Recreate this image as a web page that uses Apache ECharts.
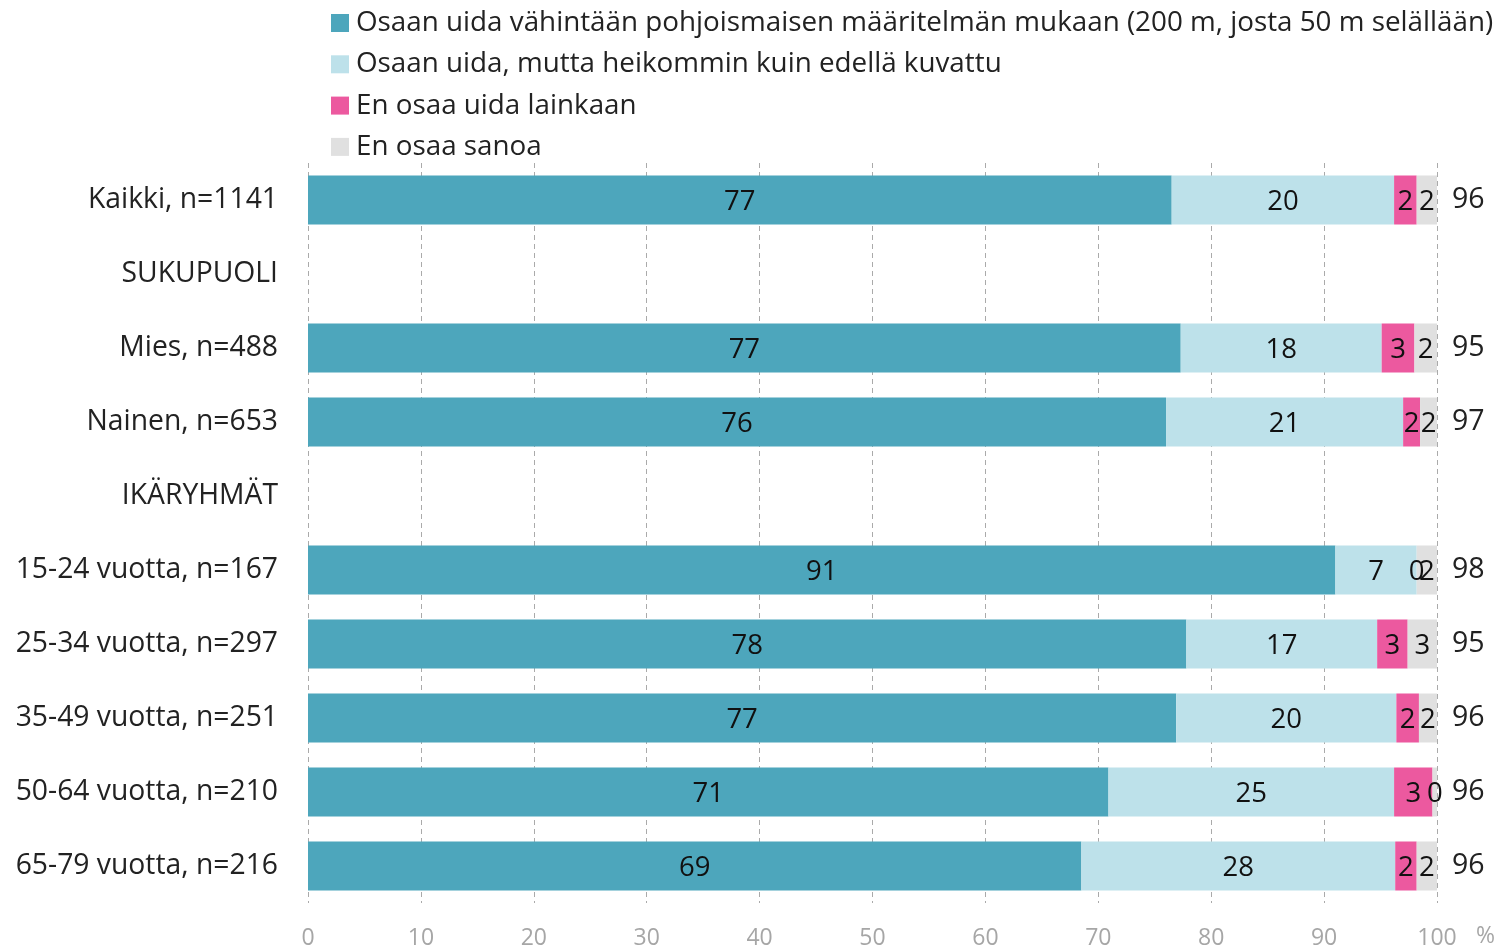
<!DOCTYPE html>
<html>
<head>
<meta charset="utf-8">
<script src="https://cdn.jsdelivr.net/npm/echarts@6/dist/echarts.min.js"></script>
<style>
  html, body { margin: 0; padding: 0; background: #fff; }
  #chart { width: 1501px; height: 950px; }
</style>
</head>
<body>
<div id="chart"></div>
<script>
// rivit ylhäältä alas
const categories = [
  "Kaikki, n=1141",
  "SUKUPUOLI",
  "Mies, n=488",
  "Nainen, n=653",
  "IKÄRYHMÄT",
  "15-24 vuotta, n=167",
  "25-34 vuotta, n=297",
  "35-49 vuotta, n=251",
  "50-64 vuotta, n=210",
  "65-79 vuotta, n=216",
];
const seriesNames = [
  "Osaan uida vähintään pohjoismaisen määritelmän mukaan (200 m, josta 50 m selällään)",
  "Osaan uida, mutta heikommin kuin edellä kuvattu",
  "En osaa uida lainkaan",
  "En osaa sanoa",
];
// "-" = otsikkorivi, ei palkkia
const osaaHyvin = [76.5, "-", 77.3, 76.0, "-", 91.0, 77.8, 76.9, 70.9, 68.5];
const osaaHeikommin = [19.7, "-", 17.8, 21.0, "-", 7.2, 16.9, 19.5, 25.3, 27.8];
const eiOsaa = [2.0, "-", 2.9, 1.5, "-", 0, 2.7, 2.0, 3.4, 1.9];
const eiTiedossa = [1.8, "-", 2.0, 1.5, "-", 1.8, 2.6, 1.6, 0.4, 1.8];
// oikean reunan yhteensä-luvut (osaa uida)
const totals = ["96", "", "95", "97", "", "98", "95", "96", "96", "96"];
const xTicks = [0, 10, 20, 30, 40, 50, 60, 70, 80, 90, 100];

const colors = ["#4da6bc", "#bde1ea", "#ec599f", "#e0e0e0"];
const fontFamily = "'Open Sans', 'Noto Sans', sans-serif";

const chart = echarts.init(document.getElementById("chart"));

const mkSeries = (name, data) => ({
  name: name,
  type: "bar",
  stack: "total",
  barWidth: 49,
  data: data,
  label: {
    show: true,
    position: "inside",
    offset: [0, 2],
    color: "#111",
    fontSize: 27.5,
    fontFamily: fontFamily,
    formatter: (p) => (p.value === "-" ? "" : String(Math.round(p.value))),
  },
  emphasis: { disabled: true },
});

const option = {
  animation: false,
  color: colors,
  textStyle: { fontFamily: fontFamily },
  legend: {
    orient: "vertical",
    left: 326,
    top: 4,
    itemWidth: 18,
    itemHeight: 18,
    itemGap: 13.3,
    icon: "rect",
    data: seriesNames,
    textStyle: {
      color: "#222",
      fontSize: 27.8,
      lineHeight: 28,
      fontFamily: fontFamily,
      padding: [0, 0, 0, 2],
    },
  },
  grid: {
    left: 308,
    right: 64,
    top: 163,
    bottom: 46,
  },
  xAxis: {
    type: "value",
    min: 0,
    max: 100,
    interval: 10,
    name: "%",
    nameLocation: "end",
    nameGap: 39,
    nameTextStyle: { color: "#a6a6a6", fontSize: 23, verticalAlign: "top", padding: [22, 0, 0, 0] },
    axisLine: { show: false },
    axisTick: { show: false },
    axisLabel: {
      color: "#a6a6a6",
      fontSize: 23,
      margin: 24,
      customValues: xTicks,
    },
    splitLine: {
      show: true,
      lineStyle: { color: "#aaaaaa", type: [5, 4], width: 1 },
    },
  },
  yAxis: [
    {
      type: "category",
      data: categories,
      inverse: true,
      axisLine: { show: false },
      axisTick: { show: false },
      axisLabel: {
        color: "#222",
        fontSize: 28.3,
        margin: 30,
        padding: [4, 0, 0, 0],
        fontFamily: fontFamily,
      },
    },
    {
      type: "category",
      data: totals,
      inverse: true,
      position: "right",
      axisLine: { show: false },
      axisTick: { show: false },
      axisLabel: {
        color: "#222",
        fontSize: 28.5,
        margin: 15,
        align: "left",
        padding: [4, 0, 0, 0],
        fontFamily: fontFamily,
      },
    },
  ],
  series: [
    mkSeries(seriesNames[0], osaaHyvin),
    mkSeries(seriesNames[1], osaaHeikommin),
    mkSeries(seriesNames[2], eiOsaa),
    mkSeries(seriesNames[3], eiTiedossa),
  ],
};

option && chart.setOption(option);
</script>
</body>
</html>
